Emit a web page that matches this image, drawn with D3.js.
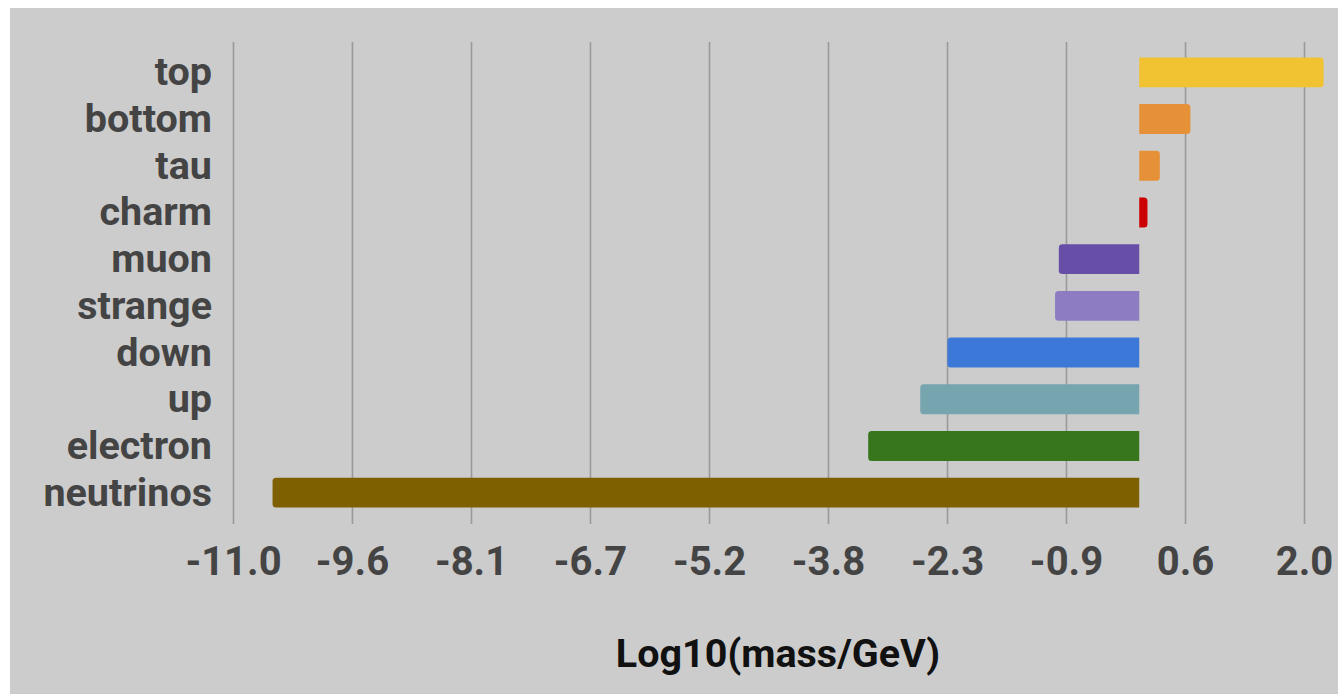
<!DOCTYPE html>
<html><head><meta charset="utf-8">
<script src="https://cdn.jsdelivr.net/npm/d3@7"></script>
<style>
html,body{margin:0;padding:0;background:#fff;}
svg{display:block;}
text{font-family:Roboto,"Noto Sans",sans-serif;font-weight:bold;}
</style></head>
<body>
<svg id="chart" width="1338" height="694"></svg>
<script>
const categories = ["top","bottom","tau","charm","muon","strange","down","up","electron","neutrinos"];
const values = [2.238, 0.621, 0.25, 0.10, -0.976, -1.022, -2.328, -2.658, -3.29, -10.52];
const colors = ["#f1c232","#e69138","#e69138","#cc0000","#674ea7","#8e7cc3","#3c78d8","#76a5af","#38761d","#7f6000"];
const tickValues = [-11, -9.556, -8.111, -6.667, -5.222, -3.778, -2.333, -0.889, 0.556, 2.0];
const tickLabels = ["-11.0","-9.6","-8.1","-6.7","-5.2","-3.8","-2.3","-0.9","0.6","2.0"];
const axisTitle = "Log10(mass/GeV)";

const svg = d3.select("#chart");
svg.append("rect").attr("x",10).attr("y",8).attr("width",1328).attr("height",686).attr("fill","#cccccc");

const x = d3.scaleLinear().domain([-11, 2]).range([233, 1304]);
const y = d3.scaleBand().domain(categories).range([49, 516]).paddingInner(0.36).paddingOuter(0.18);

// gridlines + tick marks
const axis = d3.axisBottom(x).tickValues(tickValues).tickFormat((d,i)=>tickLabels[i]).tickSize(524-42).tickPadding(0);
const g = svg.append("g").attr("transform","translate(0,42)").call(axis);
g.select(".domain").remove();
g.selectAll(".tick line").attr("stroke","#9a9a9a").attr("stroke-width",1.6);
g.selectAll(".tick text").attr("fill","#444").attr("font-size",40).attr("y",575-42).attr("dy",0);

// bars with rounded outer end
const r = 3.5;
function barPath(v, yy, h){
  const x0 = x(0), x1 = x(v);
  if (v >= 0){
    const rr = Math.min(r, (x1-x0));
    return `M${x0},${yy}H${x1-rr}Q${x1},${yy} ${x1},${yy+rr}V${yy+h-rr}Q${x1},${yy+h} ${x1-rr},${yy+h}H${x0}Z`;
  } else {
    const rr = Math.min(r, (x0-x1));
    return `M${x0},${yy}H${x1+rr}Q${x1},${yy} ${x1},${yy+rr}V${yy+h-rr}Q${x1},${yy+h} ${x1+rr},${yy+h}H${x0}Z`;
  }
}
svg.append("g").selectAll("path").data(categories).join("path")
  .attr("d",(c,i)=>barPath(values[i], y(c), y.bandwidth()))
  .attr("fill",(c,i)=>colors[i]);

// category labels
svg.append("g").selectAll("text").data(categories).join("text")
  .attr("x",212).attr("y",c=>y(c)+y.bandwidth()/2+13)
  .attr("text-anchor","end").attr("font-size",39.5).attr("fill","#444").text(c=>c);

svg.append("text").attr("x",778).attr("y",667).attr("text-anchor","middle")
  .attr("font-size",39.5).attr("fill","#111").text(axisTitle);
</script>
</body></html>
